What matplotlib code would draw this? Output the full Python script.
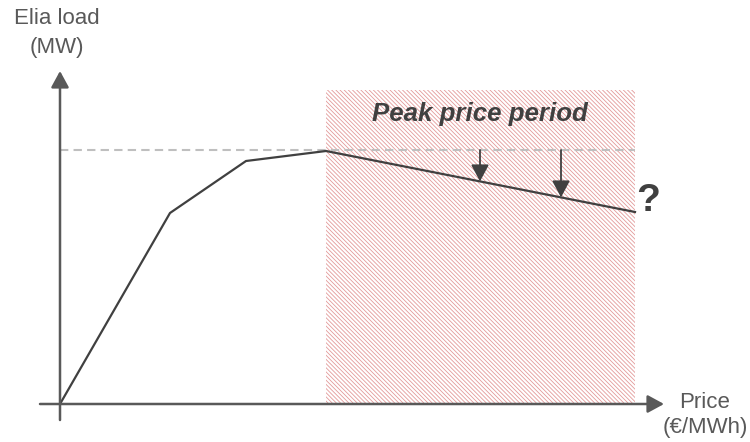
import matplotlib
matplotlib.use("Agg")
import matplotlib.pyplot as plt
from matplotlib.patches import Rectangle
import numpy as np

# Schematic load curve versus price (arbitrary units)
price = [0, 110, 186, 266, 575]
load = [0, 191, 243, 253, 192]
peak_load = 254
peak_start, peak_end = 266, 575
peak_top = 314
arrow_prices = [420, 501]

plt.rcParams["font.family"] = ["Liberation Sans", "DejaVu Sans"]
plt.rcParams["hatch.linewidth"] = 0.6

fig = plt.figure(figsize=(7.5, 4.42), dpi=100)
ax = fig.add_axes([0, 0, 1, 1])
ax.set_xlim(-60, 690)
ax.set_ylim(-38, 404)
ax.axis("off")

axis_col = "#595959"
line_col = "#404040"

# Peak price period shading
ax.add_patch(Rectangle((peak_start, 0), peak_end - peak_start, peak_top,
                       facecolor="none", edgecolor="#e39a9a", linewidth=0,
                       hatch="\\" * 8, zorder=1))

# Reference level of the peak
ax.plot([0, peak_end], [peak_load, peak_load], color="#bfbfbf", lw=1.5,
        ls=(0, (4, 2.5)), zorder=2)

# Load curve
ax.plot(price, load, color=line_col, lw=1.6, zorder=3, solid_joinstyle="round")

# Axes with arrow heads
arrow_kw = dict(arrowstyle="-|>,head_length=0.55,head_width=0.3",
                color=axis_col, lw=1.8, mutation_scale=18, shrinkA=0, shrinkB=0)
ax.annotate("", xy=(604, 0), xytext=(-20, 0), arrowprops=arrow_kw, zorder=4)
ax.annotate("", xy=(0, 333), xytext=(0, -16), arrowprops=arrow_kw, zorder=4)

# Downward arrows onto the curve
for p in arrow_prices:
    y_end = np.interp(p, price, load)
    ax.annotate("", xy=(p, y_end), xytext=(p, peak_load),
                arrowprops=dict(arrowstyle="-|>,head_length=0.6,head_width=0.32",
                                color=line_col, lw=1.3, mutation_scale=17,
                                shrinkA=0, shrinkB=0), zorder=4)

ax.text(-3, 386, "Elia load", ha="center", va="center", fontsize=16, color=axis_col)
ax.text(-3, 357, "(MW)", ha="center", va="center", fontsize=16, color=axis_col)
ax.text(645, 2, "Price", ha="center", va="center", fontsize=16, color=axis_col)
ax.text(645, -24, "(€/MWh)", ha="center", va="center", fontsize=16, color=axis_col)
ax.text(420, 290, "Peak price period", ha="center", va="center", fontsize=18.6,
        fontweight="bold", fontstyle="italic", color=line_col)
ax.text(588, 203, "?", ha="center", va="center", fontsize=28,
        fontweight="bold", color=line_col)

fig.savefig("out.png", dpi=100)
